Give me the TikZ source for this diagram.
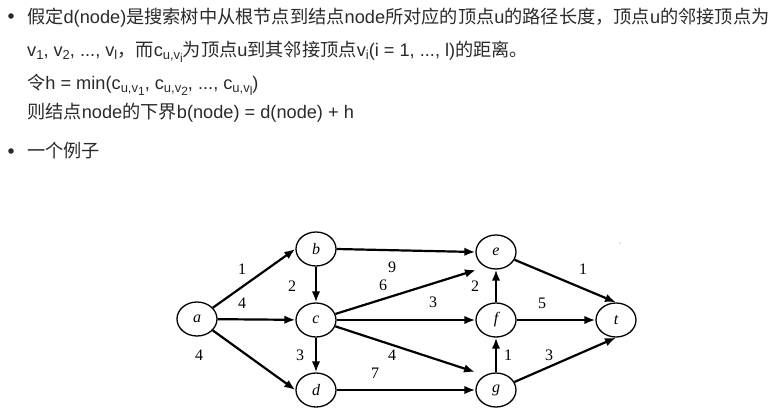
\documentclass[tikz,border=0pt]{standalone}
\usepackage{fontspec}
\newfontfamily\cjk{Noto Sans CJK SC}
\newfontfamily\lat{Liberation Sans}
\newfontfamily\tms{Liberation Serif}
\usetikzlibrary{arrows.meta,calc,shapes.geometric}
\definecolor{txtc}{HTML}{2A2A2A}
\newcommand\zh[1]{{\cjk #1}}
\newcommand\sbx[1]{\raisebox{-3.5pt}{\fontsize{13}{13}\selectfont #1}}
\newcommand\ssbx[1]{\raisebox{-2.5pt}{\fontsize{12}{12}\selectfont #1}}
\begin{document}
\begin{tikzpicture}[x=1pt,y=-1pt,
 txt/.style={anchor=base west,inner sep=0,text=txtc,font=\lat\fontsize{18.2}{20}\selectfont},
 vtx/.style={ellipse,draw,line width=1.3pt,minimum width=40pt,minimum height=34pt,inner sep=0,font=\tms\itshape\fontsize{16}{16}\selectfont},
 edge/.style={line width=2.2pt,-{Latex[length=11pt,width=8.5pt]}},
 num/.style={font=\tms\fontsize{16}{16}\selectfont,inner sep=0}]
\useasboundingbox (0,0) rectangle (774,413);
% bullet text
\fill[txtc] (11,16) circle (2.8);
\fill[txtc] (11,151) circle (2.8);
\node[txt] (l1) at (27,23) {\zh{假定}d(node)\zh{是搜索树中从根节点到结点}node\zh{所对应的顶点}u\zh{的路径长度，顶点}u\zh{的邻接顶点为}};
\node[txt] (l2) at (27,56) {v\sbx{1}, v\sbx{2}, ..., v\sbx{l}\zh{，而}c\sbx{u,v\ssbx{i}}\zh{为顶点}u\zh{到其邻接顶点}v\sbx{i}(i = 1, ..., l)\zh{的距离。}};
\node[txt] (l3) at (27,89) {\zh{令}h = min(c\sbx{u,v\ssbx{1}}, c\sbx{u,v\ssbx{2}}, ..., c\sbx{u,v\ssbx{l}})};
\node[txt] (l4) at (27,118) {\zh{则结点}node\zh{的下界}b(node) = d(node) + h};
\node[txt] (l5) at (27,157) {\zh{一个例子}};
% graph
\node[vtx] (a) at (197,319) {a};
\node[vtx] (b) at (316,249) {b};
\node[vtx] (c) at (316,320) {c};
\node[vtx] (d) at (316,390) {d};
\node[vtx] (e) at (496,252) {e};
\node[vtx] (f) at (496,320) {f};
\node[vtx] (g) at (496,390) {g};
\node[vtx] (t) at (616,320) {t};
\coordinate (ce) at ($(e)+(-20,18)$);
\coordinate (cg) at ($(g)+(-21,-18)$);
\draw[edge] (a) -- (b.west);
\draw[edge] (a) -- (c);
\draw[edge] (a) -- (d.west);
\draw[edge] (b) -- (c);
\draw[edge] (b.east) -- (e.west);
\draw[edge] (c) -- (d);
\draw[edge] (c) -- (ce);
\draw[edge] (c) -- (f);
\draw[edge] (c) -- (cg);
\draw[edge] (d) -- (g);
\draw[edge] (f) -- (e);
\draw[edge] (g) -- (f);
\draw[edge] (e) -- (t.north);
\draw[edge] (f) -- (t);
\draw[edge] (g) -- (t.south);
% weights
\node[num] (w1) at (242,269) {1};
\node[num] (w2) at (242,303) {4};
\node[num] (w3) at (199,355) {4};
\node[num] (w4) at (292,286) {2};
\node[num] (w5) at (392,267) {9};
\node[num] (w6) at (383,285) {6};
\node[num] (w7) at (433,302) {3};
\node[num] (w8) at (300,355) {3};
\node[num] (w9) at (392,355) {4};
\node[num] (w10) at (375,373) {7};
\node[num] (w11) at (475,286) {2};
\node[num] (w12) at (583,269) {1};
\node[num] (w13) at (542,303) {5};
\node[num] (w14) at (508,355) {1};
\node[num] (w15) at (549,355) {3};
\fill[gray] (620,243) circle (0.7);
\end{tikzpicture}
\end{document}
